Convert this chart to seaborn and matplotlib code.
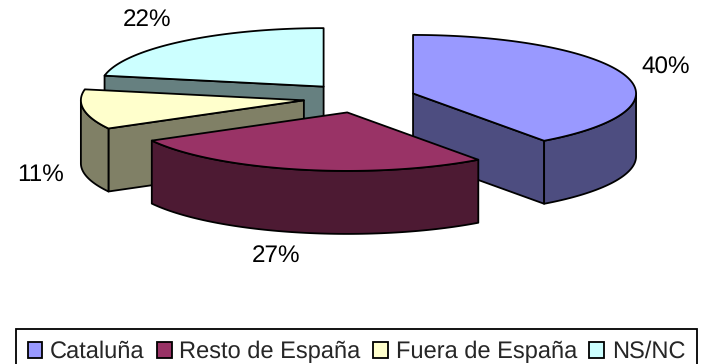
import numpy as np
import matplotlib
matplotlib.use("Agg")
import matplotlib.pyplot as plt
from matplotlib.patches import Polygon, Patch
import seaborn as sns

categories = ["Cataluña", "Resto de España", "Fuera de España", "NS/NC"]
values = [40, 27, 11, 22]
top_colors = ["#9999FF", "#993366", "#FFFFCC", "#CCFFFF"]
side_colors = ["#4D4D80", "#4D1A33", "#808066", "#668080"]
label_pos = [(665.5, 68), (276, 256), (41, 175), (147, 20)]

sns.set_theme(style="white")
plt.rcParams["font.family"] = ["Liberation Sans", "DejaVu Sans"]
plt.rcParams["text.hinting"] = "none"

CX, CY = 359.5, 98.0
RX, RY = 223.0, 58.5
DEPTH = 63.0
EXPLODE = 0.2525
LW = 1.3

fig = plt.figure(figsize=(7.02, 3.64), dpi=100)
ax = fig.add_axes([0, 0, 1, 1])
ax.set_xlim(0, 702)
ax.set_ylim(364, 0)
ax.axis("off")


def point(tip, deg):
    r = np.radians(deg)
    return np.column_stack([tip[0] + RX * np.sin(r), tip[1] - RY * np.cos(r)])


fractions = np.array(values) / sum(values)
ends = np.cumsum(fractions) * 360
starts = ends - fractions * 360


def draw_slice(i):
    a0, a1 = starts[i], ends[i]
    mid = np.radians((a0 + a1) / 2)
    tip = (CX + RX * EXPLODE * np.sin(mid), CY - RY * EXPLODE * np.cos(mid))
    kw = dict(edgecolor="black", linewidth=LW, joinstyle="round")
    down = np.array([0, DEPTH])
    tip_arr = np.array([tip])
    # radial walls that face the viewer
    visible = []
    if a0 >= 180:
        visible.append(a0)
    if a1 <= 180:
        visible.append(a1)
    for deg in visible:
        p = point(tip, deg)
        quad = np.vstack([tip_arr, p, p + down, tip_arr + down])
        ax.add_patch(Polygon(quad, facecolor=side_colors[i], **kw))
    # outer wall, only the part that faces the viewer
    lo, hi = max(a0, 90), min(a1, 270)
    if hi > lo:
        arc = point(tip, np.linspace(lo, hi, 80))
        ax.add_patch(Polygon(np.vstack([arc, (arc + down)[::-1]]),
                             facecolor=side_colors[i], **kw))
    # top face
    arc = point(tip, np.linspace(a0, a1, 120))
    ax.add_patch(Polygon(np.vstack([tip_arr, arc]), facecolor=top_colors[i], **kw))


for i in (3, 2, 0, 1):
    draw_slice(i)

for v, (x, y) in zip(values, label_pos):
    ax.text(x, y, f"{v}%", ha="center", va="center", fontsize=17.5, color="black")

handles = [Patch(facecolor=c, edgecolor="black", linewidth=LW) for c in top_colors]
leg = ax.legend(handles, categories, ncol=4, loc="upper left",
                bbox_to_anchor=(16 / 702, 1 - 373 / 364, 681 / 702, 44 / 364),
                mode="expand", fontsize=17.0, frameon=True, fancybox=False,
                edgecolor="black", framealpha=1, borderpad=0.5, borderaxespad=0,
                handlelength=0.62, handleheight=0.62, handletextpad=0.32,
                columnspacing=0.45, labelspacing=0)
leg.get_frame().set_linewidth(LW)

fig.savefig("out.png", dpi=100, facecolor="white")
